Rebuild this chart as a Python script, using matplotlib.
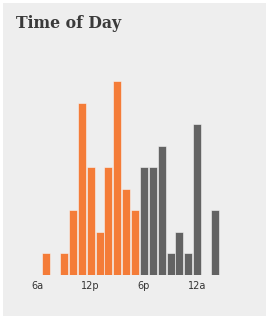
import matplotlib
matplotlib.use("Agg")
import matplotlib.pyplot as plt
from matplotlib.patches import Rectangle

hours = ["6a", "7a", "8a", "9a", "10a", "11a", "12p", "1p", "2p", "3p", "4p", "5p",
         "6p", "7p", "8p", "9p", "10p", "11p", "12a", "1a", "2a", "3a", "4a", "5a"]
counts = [0, 1, 0, 1, 3, 8, 5, 2, 5, 9, 4, 3,
          5, 5, 6, 1, 2, 1, 7, 0, 3, 0, 0, 0]
tick_labels = ["6a", "12p", "6p", "12a"]

W, H = 268, 320
fig = plt.figure(figsize=(W / 100, H / 100), dpi=100)
fig.patch.set_facecolor("white")
fig.patches.append(Rectangle((3 / W, 4 / H), 263 / W, 313 / H, transform=fig.transFigure,
                             facecolor="#eeeeee", edgecolor="none", zorder=-10))

fig.text(16 / W, 1 - 28 / H, "Time of Day", family="DejaVu Serif", fontsize=11.3,
         weight="bold", color="#3a3a3a", va="baseline", ha="left")

ax = fig.add_axes([33 / W, 45 / H, 213 / W, 194 / H])
ax.set_facecolor("none")
x = list(range(len(hours)))
colors = ["#f47c38" if i < 12 else "#636363" for i in x]
ax.bar(x, counts, width=0.9, color=colors, edgecolor="#f6f6f6", linewidth=0.4)
ax.set_xlim(-0.5, len(hours) - 0.5)
ax.set_ylim(0, 9)
ax.set_xticks([hours.index(t) for t in tick_labels])
ax.set_xticklabels(tick_labels, fontsize=7, color="#333333")
ax.tick_params(axis="x", length=0, pad=4)
ax.set_yticks([])
for s in ax.spines.values():
    s.set_visible(False)

fig.savefig("out.png", dpi=100, facecolor=fig.get_facecolor())
